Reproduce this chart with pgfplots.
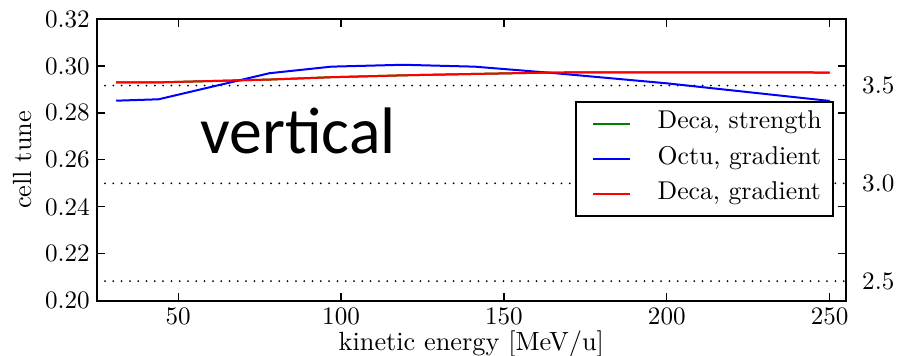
\documentclass[border=0pt]{standalone}
\usepackage{pgfplots}
\pgfplotsset{compat=1.18}
\usepackage{fontspec}
\setmainfont{lmroman10-regular.otf}
\newfontfamily\carlito{Carlito}
\usetikzlibrary{calc}
\definecolor{mplgreen}{RGB}{0,128,0}
\begin{document}
\begin{tikzpicture}
\begin{axis}[
  name=ax,
  scale only axis,
  width=374.65bp, height=140.85bp,
  xmin=25, xmax=255, ymin=0.20, ymax=0.32,
  xtick={50,100,150,200,250},
  ytick={0.20,0.22,0.24,0.26,0.28,0.30,0.32},
  /pgf/number format/assume math mode=true,
  yticklabel style={/pgf/number format/.cd,fixed,fixed zerofill,precision=2},
  tick align=inside,
  major tick length=4bp,
  every tick/.style={black, line width=0.6bp},
  axis line style={line width=1bp},
  tick label style={font=\fontsize{12.6}{15}\selectfont},
  label style={font=\fontsize{13.2}{16}\selectfont},
  xlabel={kinetic energy [MeV/u]},
  xlabel style={yshift=4bp},
  ylabel={cell tune},
  legend style={
    at={(0.984,0.709)}, anchor=north east,
    draw=black, line width=1bp, fill=white,
    font=\fontsize{12.9}{16}\selectfont,
    inner xsep=5.65bp, inner ysep=6bp,
    row sep=7.6bp, column sep=13.35bp,
    nodes={inner sep=0bp, text height=0.75em, text depth=0.25em},
  },
  legend cell align=left,
  legend image code/.code={\path (0bp,0bp); \draw[#1, line width=1bp] (2.5bp,0bp) -- (21bp,0bp);},
]
\addplot[forget plot, black, line width=1bp, line cap=round, dash pattern=on 0bp off 4.15bp] coordinates {(25,0.291667) (255,0.291667)};
\addplot[forget plot, black, line width=1bp, line cap=round, dash pattern=on 0bp off 4.15bp] coordinates {(25,0.25) (255,0.25)};
\addplot[forget plot, black, line width=1bp, line cap=round, dash pattern=on 0bp off 4.15bp] coordinates {(25,0.208333) (255,0.208333)};
\addplot[mplgreen, line width=1bp] coordinates {
 (31,0.2930) (44,0.2930) (78,0.2942) (97,0.2952) (119,0.2960) (141,0.2966) (165,0.2972) (200,0.2973) (250,0.2972)};
\addlegendentry{Deca, strength}
\addplot[blue, line width=1bp] coordinates {
 (31,0.2852) (44,0.2858) (78,0.2969) (97,0.2997) (119,0.3005) (141,0.2997) (165,0.2970) (200,0.2926) (250,0.2851)};
\addlegendentry{Octu, gradient}
\addplot[red, line width=1bp] coordinates {
 (31,0.2930) (44,0.2930) (78,0.2942) (97,0.2952) (119,0.2960) (141,0.2966) (165,0.2972) (200,0.2973) (250,0.2972)};
\addlegendentry{Deca, gradient}
\node[anchor=base, inner sep=0pt, font=\carlito\fontsize{33}{40}\selectfont] at (rel axis cs:0.2687,0.5233) {vertical};
\end{axis}
\begin{axis}[
  scale only axis,
  width=374.65bp, height=140.85bp,
  xmin=25, xmax=255, ymin=2.4, ymax=3.84,
  hide x axis,
  axis y line*=right,
  y axis line style={draw=none},
  ytick={2.5,3.0,3.5},
  yticklabels={2.5,3.0,3.5},
  major tick length=0pt,
  tick label style={font=\fontsize{12.6}{15}\selectfont},
  yticklabel style={xshift=4.6bp},
]
\addplot[draw=none] coordinates {(25,3)};
\end{axis}
\pgfresetboundingbox
\path[use as bounding box] ($(ax.south west)+(-48.35bp,-27.65bp)$) rectangle ($(ax.north east)+(33.5bp,9.5bp)$);
\end{tikzpicture}
\end{document}
